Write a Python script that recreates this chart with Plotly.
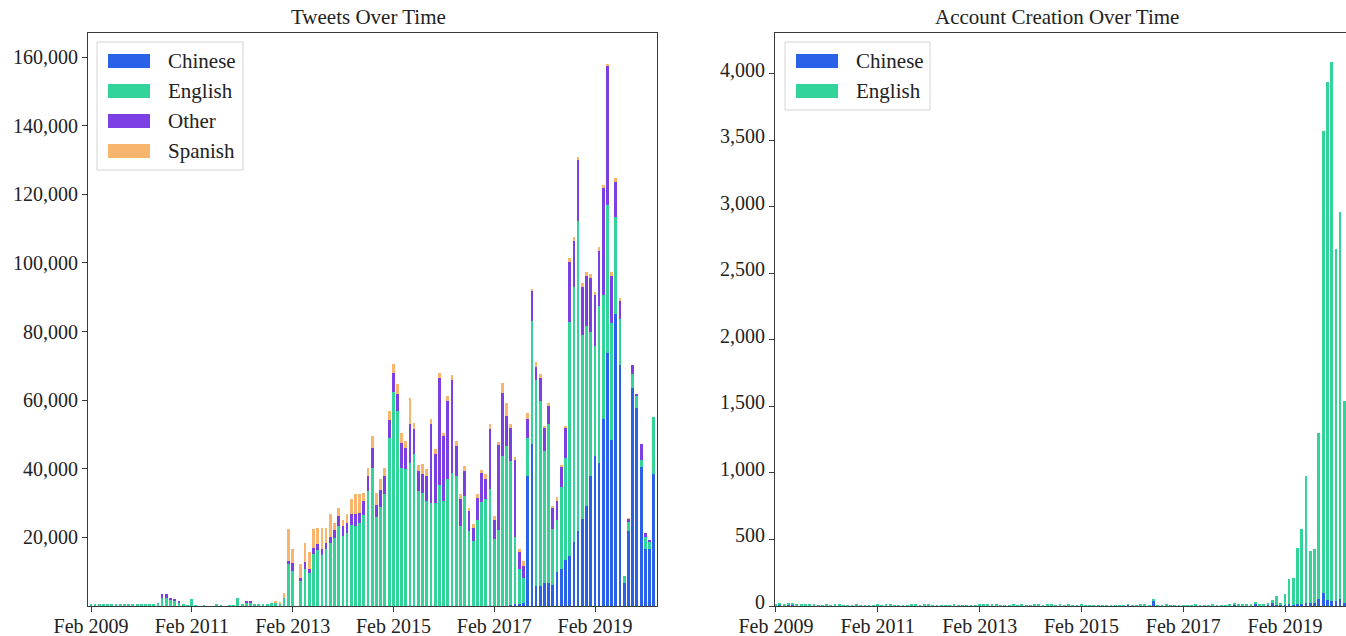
import pandas as pd
import plotly.graph_objects as go

# Monthly buckets, Feb 2009 through Apr 2020
months = pd.date_range("2009-02-01", periods=135, freq="MS")

# ---- Tweets per month, by language (rows: 2009 Feb-Dec, then Jan-Dec per year, 2020 Jan-Apr)
tweets_chinese = [
    0, 0, 0, 0, 0, 0, 0, 0, 0, 0, 0,
    0, 0, 0, 0, 0, 0, 0, 0, 0, 0, 0, 0,
    0, 0, 0, 0, 0, 0, 0, 0, 0, 0, 0, 0,
    0, 0, 0, 0, 0, 0, 0, 0, 0, 0, 0, 0,
    0, 0, 0, 0, 0, 0, 0, 0, 0, 0, 0, 0,
    0, 0, 0, 0, 0, 0, 0, 0, 0, 0, 0, 0,
    0, 0, 0, 0, 0, 0, 0, 0, 0, 0, 0, 0,
    0, 0, 0, 0, 0, 0, 0, 0, 0, 0, 0, 0,
    0, 0, 0, 0, 0, 300, 500, 500, 800, 38000, 47300, 5700,
    5700, 6800, 6800, 6200, 9900, 10900, 13500, 14600, 18700, 21800, 25500, 29100,
    37900, 43700, 41600, 54600, 73800, 48300, 85200, 70200, 6800, 21800, 63400, 57700,
    40500, 16600, 16600, 38500,
]
tweets_english = [
    400, 500, 600, 500, 400, 500, 500, 600, 400, 500, 500,
    400, 500, 600, 500, 700, 900, 2400, 2400, 1800, 1600, 1000, 400,
    100, 1900, 100, 0, 100, 0, 0, 500, 200, 0, 100, 200,
    2300, 600, 1000, 1000, 400, 300, 400, 500, 1000, 1100, 800, 2400,
    12100, 10200, 0, 7300, 10900, 9500, 15300, 16300, 14800, 16700, 18300, 19900,
    23300, 20400, 21400, 23500, 23300, 24300, 26400, 33500, 40300, 25800, 29000, 32500,
    49000, 62500, 56800, 40300, 39800, 41700, 44200, 33500, 32800, 30600, 30100, 30100,
    35400, 30600, 36900, 38800, 37900, 23300, 32000, 21800, 18900, 25200, 30400, 31100,
    34000, 19400, 22100, 43700, 46600, 41900, 19700, 10200, 7500, 10900, 35900, 60300,
    54000, 38500, 46300, 16100, 15100, 23900, 29600, 68100, 74300, 90400, 53500, 52500,
    42100, 32200, 45700, 35900, 43100, 34300, 28100, 13500, 2000, 2600, 4200, 3600,
    2100, 3600, 2100, 16600,
]
tweets_other = [
    0, 0, 0, 0, 0, 0, 0, 0, 0, 0, 0,
    0, 0, 0, 0, 0, 0, 1200, 1200, 500, 500, 300, 0,
    0, 0, 0, 0, 0, 0, 0, 0, 0, 0, 0, 0,
    0, 0, 500, 500, 0, 0, 0, 0, 0, 0, 0, 0,
    1000, 2400, 0, 1000, 2000, 1400, 1700, 1700, 1700, 1700, 1700, 2200,
    2900, 2900, 2900, 3200, 3400, 2900, 4200, 4400, 5800, 3600, 4900, 5300,
    5300, 5500, 4900, 7300, 6300, 11200, 7300, 5800, 5800, 7300, 22800, 14100,
    31000, 18900, 22800, 27000, 8700, 7800, 7300, 5800, 3900, 6300, 8300, 5800,
    17500, 5800, 24800, 18400, 8700, 9700, 22300, 4900, 3400, 5700, 8800, 3600,
    6800, 6800, 5200, 6200, 5700, 5700, 8800, 17700, 13500, 17700, 14000, 14600,
    15600, 14600, 16100, 31200, 40500, 13500, 10400, 5200, 0, 1000, 2600, 600,
    4700, 1100, 500, 0,
]
tweets_spanish = [
    0, 0, 0, 0, 0, 0, 0, 0, 0, 0, 0,
    0, 0, 0, 0, 0, 0, 0, 0, 0, 0, 0, 0,
    0, 0, 0, 0, 0, 0, 0, 0, 0, 0, 0, 0,
    0, 0, 0, 0, 0, 0, 0, 0, 0, 300, 500, 1500,
    9200, 3900, 0, 3900, 5600, 4700, 5300, 4800, 6300, 4400, 6800, 2200,
    2400, 1900, 2400, 4400, 5800, 5300, 2400, 2400, 3400, 3600, 3000, 2400,
    2400, 2500, 2900, 2900, 2000, 7800, 1900, 1900, 2700, 1900, 1500, 1500,
    1500, 1000, 1500, 1500, 1500, 1500, 1500, 1000, 1000, 1000, 1000, 1500,
    1500, 1000, 1000, 2900, 3900, 1000, 1000, 1000, 1500, 1600, 500, 1600,
    1000, 500, 1000, 600, 1000, 600, 600, 1000, 1100, 1100, 1100, 1000,
    1100, 1000, 1100, 1000, 600, 1100, 1000, 1000, 0, 100, 0, 0,
    0, 0, 0, 0,
]

# ---- Accounts created per month, by language
accounts_chinese = [
    5, 8, 3, 6, 12, 4, 3, 2, 5, 3, 2,
    2, 3, 2, 4, 2, 3, 2, 3, 2, 2, 3, 2,
    2, 3, 2, 2, 3, 2, 4, 2, 3, 5, 4, 3,
    6, 4, 3, 2, 3, 2, 2, 3, 2, 2, 3, 2,
    2, 5, 3, 4, 6, 3, 2, 3, 2, 4, 2, 3,
    2, 3, 5, 3, 2, 4, 3, 2, 3, 2, 3, 2,
    2, 3, 2, 2, 3, 2, 2, 3, 2, 2, 3, 2,
    8, 3, 2, 3, 5, 3, 45, 3, 2, 3, 2, 3,
    3, 2, 3, 2, 4, 2, 3, 2, 5, 3, 2, 3,
    3, 12, 4, 3, 4, 5, 20, 4, 5, 6, 25, 10,
    8, 10, 12, 10, 12, 15, 20, 25, 20, 50, 95, 45,
    40, 35, 50, 25,
]
accounts_english = [
    12, 8, 10, 15, 8, 10, 6, 8, 7, 6, 5,
    5, 6, 4, 5, 6, 4, 5, 4, 6, 5, 4, 5,
    4, 5, 4, 6, 5, 4, 3, 5, 4, 6, 5, 4,
    6, 5, 4, 5, 4, 3, 4, 5, 4, 3, 4, 5,
    4, 5, 6, 5, 4, 6, 5, 4, 5, 6, 4, 5,
    5, 4, 6, 5, 4, 5, 6, 4, 5, 4, 5, 4,
    4, 5, 4, 3, 4, 5, 4, 3, 4, 5, 4, 3,
    4, 3, 4, 5, 4, 3, 4, 3, 4, 5, 4, 3,
    4, 3, 4, 3, 4, 3, 4, 5, 4, 3, 5, 4,
    5, 4, 6, 5, 6, 8, 6, 10, 12, 15, 20, 65,
    12, 80, 193, 200, 423, 560, 960, 385, 410, 1250, 3475, 3895,
    4050, 2645, 2910, 1515,
]

tick_dates = ["2009-02-01", "2011-02-01", "2013-02-01", "2015-02-01", "2017-02-01", "2019-02-01"]
tick_labels = ["Feb 2009", "Feb 2011", "Feb 2013", "Feb 2015", "Feb 2017", "Feb 2019"]

tweet_series = [
    ("Chinese", tweets_chinese),
    ("English", tweets_english),
    ("Other", tweets_other),
    ("Spanish", tweets_spanish),
]
account_series = [
    ("Chinese", accounts_chinese),
    ("English", accounts_english),
]

colors = {
    "Chinese": "#2962e8",
    "English": "#33d49a",
    "Other": "#7b3fe4",
    "Spanish": "#f7b56e",
}

W, H = 1346, 636
FONT = "Liberation Serif"
BAR_W = 20 * 86400000  # bar width in ms


def px_x(p):
    return p / W


def px_y(p):
    return 1 - p / H


fig = go.Figure()

for name, vals in tweet_series:
    fig.add_trace(go.Bar(x=months, y=vals, name=name, width=BAR_W,
                         marker=dict(color=colors[name], line=dict(width=0)),
                         xaxis="x", yaxis="y", showlegend=False))
for name, vals in account_series:
    fig.add_trace(go.Bar(x=months, y=vals, name=name, width=BAR_W,
                         marker=dict(color=colors[name], line=dict(width=0)),
                         xaxis="x2", yaxis="y2", showlegend=False))

axis_common = dict(
    showline=True, linecolor="#3a3a3a", linewidth=1.2,
    ticks="outside", ticklen=5, tickcolor="#3a3a3a", tickwidth=1.2,
    showgrid=False, zeroline=False, automargin=False,
    tickfont=dict(family=FONT, size=20, color="#222"),
)
x_common = dict(axis_common, ticklabelstandoff=-3)

left_dom = [px_x(88), px_x(657)]
right_dom = [px_x(775), 1.0]
y_dom = [px_y(606), px_y(33)]

fig.update_layout(
    width=W, height=H,
    margin=dict(l=0, r=0, t=0, b=0, autoexpand=False),
    paper_bgcolor="white", plot_bgcolor="white",
    barmode="stack",
    font=dict(family=FONT, color="#222"),
    xaxis=dict(domain=left_dom, type="date", range=["2009-01-10", "2020-04-25"],
               tickvals=tick_dates, ticktext=tick_labels, mirror=True, anchor="y",
               **x_common),
    yaxis=dict(domain=y_dom, range=[0, 167000], tickvals=list(range(20000, 160001, 20000)),
               tickformat=",d", mirror=True, anchor="x", **axis_common),
    xaxis2=dict(domain=right_dom, type="date", range=["2009-01-25", "2020-04-13"],
                tickvals=tick_dates, ticktext=tick_labels, mirror=True, anchor="y2",
                **x_common),
    yaxis2=dict(domain=y_dom, range=[0, 4305], tickvals=list(range(0, 4001, 500)),
                tickformat=",d", mirror=False, anchor="x2", ticklabelshift=-4,
                **axis_common),
)

# Panel titles
for text, dom in (("Tweets Over Time", [px_x(80), px_x(657)]),
                  ("Account Creation Over Time", [px_x(775), px_x(1338)])):
    fig.add_annotation(text=text, xref="paper", yref="paper",
                       x=(dom[0] + dom[1]) / 2, y=px_y(17), xanchor="center", yanchor="middle",
                       showarrow=False, font=dict(family=FONT, size=21, color="#222"))


def draw_legend(x0, y0, x1, y1, entries):
    fig.add_shape(type="rect", xref="paper", yref="paper",
                  x0=px_x(x0), x1=px_x(x1), y0=px_y(y1), y1=px_y(y0),
                  line=dict(color="#d4d4d4", width=1), fillcolor="rgba(255,255,255,0.85)")
    for i, name in enumerate(entries):
        cy = y0 + 19 + 30 * i
        sx = x0 + 11
        fig.add_shape(type="rect", xref="paper", yref="paper",
                      x0=px_x(sx), x1=px_x(sx + 42), y0=px_y(cy + 7), y1=px_y(cy - 7),
                      line=dict(width=0), fillcolor=colors[name])
        fig.add_annotation(text=name, xref="paper", yref="paper",
                           x=px_x(sx + 58), y=px_y(cy), xanchor="left", yanchor="middle",
                           showarrow=False, font=dict(family=FONT, size=21, color="#222"))


draw_legend(97, 42, 243, 170, [n for n, _ in tweet_series])
draw_legend(785, 42, 930, 110, [n for n, _ in account_series])

fig.write_html("out.html")
